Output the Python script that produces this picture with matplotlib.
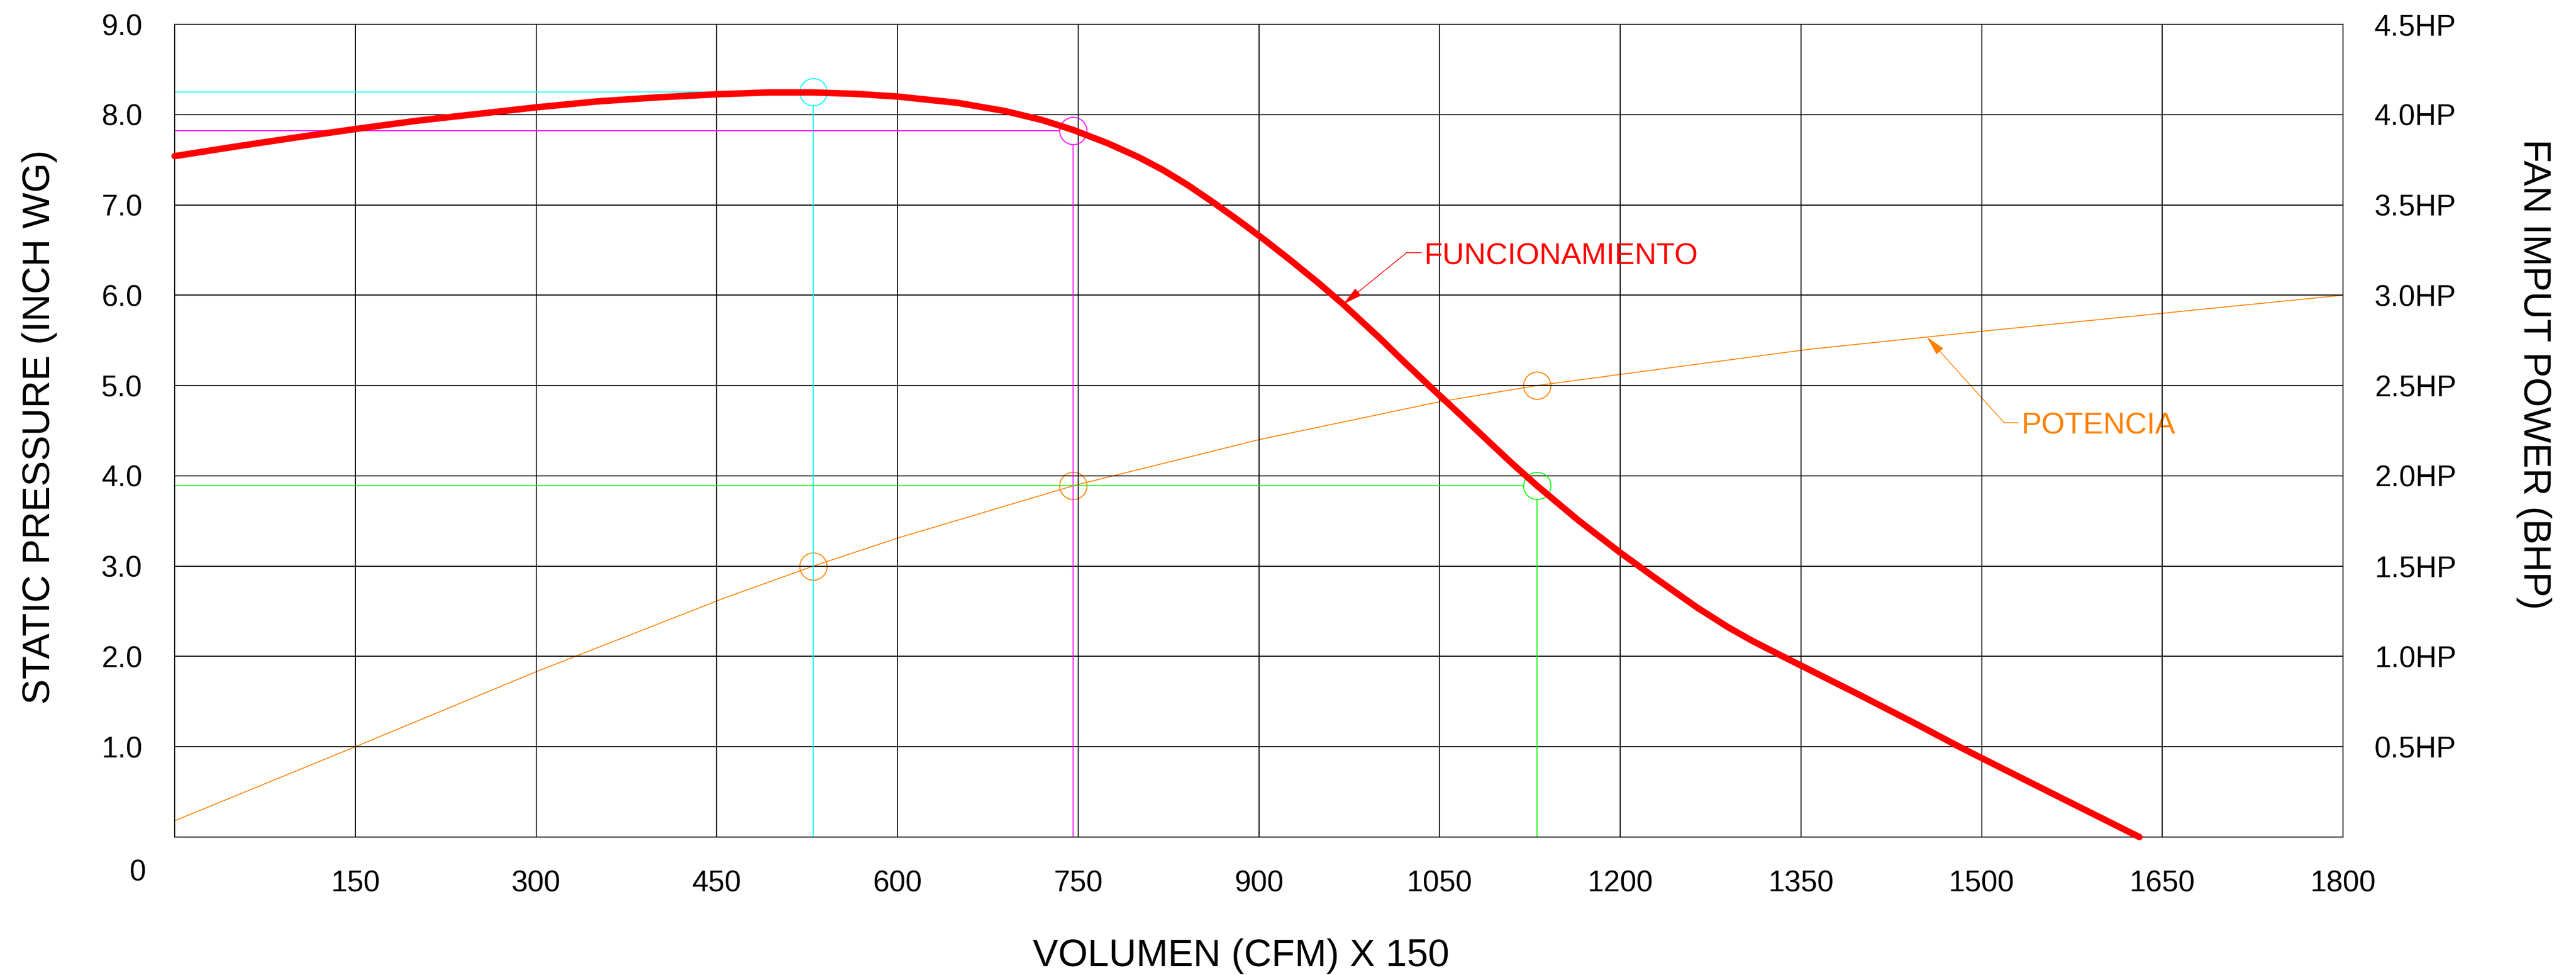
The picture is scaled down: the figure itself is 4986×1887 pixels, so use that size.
import matplotlib.pyplot as plt
import numpy as np
from matplotlib.ticker import FixedLocator, FuncFormatter

plt.rcParams["font.family"] = ["Liberation Sans", "DejaVu Sans"]

# Fan curve: volume (CFM x 150) against static pressure (inch WG)
VOLUME = [0, 50, 100, 150, 200, 250, 300, 350, 400, 450, 493, 530, 565, 600,
          650, 689, 720, 746, 775, 800, 820, 841, 863, 885, 906, 927, 950, 970,
          1000, 1020, 1042, 1065, 1090, 1110, 1131, 1165, 1200, 1230, 1264,
          1290, 1310, 1335, 1350, 1400, 1446, 1480, 1500, 1565, 1631]
PRESSURE = [7.54, 7.645, 7.745, 7.84, 7.93, 8.005, 8.08, 8.145, 8.19, 8.225,
            8.245, 8.245, 8.23, 8.20, 8.13, 8.04, 7.94, 7.83, 7.68, 7.53, 7.39,
            7.22, 7.02, 6.81, 6.60, 6.38, 6.13, 5.90, 5.53, 5.27, 4.99, 4.705,
            4.39, 4.14, 3.89, 3.51, 3.15, 2.86, 2.54, 2.32, 2.17, 2.0, 1.90,
            1.565, 1.25, 1.01, 0.875, 0.44, 0.0]

# Fan input power curve (BHP)
POWER_VOLUME = [0, 150, 300, 455, 530, 600, 746, 900, 1050, 1131, 1356, 1500, 1650, 1800]
POWER_HP = [0.09, 0.50, 0.915, 1.32, 1.50, 1.655, 1.945, 2.20, 2.41, 2.50, 2.70,
            2.80, 2.90, 3.00]

# Marked operating points on the pressure curve and their guide colours
POINT_VOLUME = [530, 746, 1131]
POINT_PRESSURE = [8.25, 7.82, 3.89]
POINT_COLORS = ["#00FFFF", "#FF00FF", "#00FF00"]

# Marked points on the power curve
POWER_POINT_VOLUME = [530, 746, 1131]
POWER_POINT_HP = [1.50, 1.945, 2.50]

X_TICKS = [150, 300, 450, 600, 750, 900, 1050, 1200, 1350, 1500, 1650, 1800]
Y_TICKS = [1.0, 2.0, 3.0, 4.0, 5.0, 6.0, 7.0, 8.0, 9.0]
HP_TICKS = [0.5, 1.0, 1.5, 2.0, 2.5, 3.0, 3.5, 4.0, 4.5]

RED = "#FF0000"
ORANGE = "#FF8000"
MARKER_SIZE = 38
TICK_SIZE = 41
LABEL_SIZE = 53
NOTE_SIZE = 42


def main():
    fig = plt.figure(figsize=(49.86, 18.87), dpi=100)
    fig.patch.set_facecolor("white")
    ax = fig.add_axes([0.06779, 0.14149, 0.84176, 0.83360])
    ax2 = ax.twinx()
    ax.set_zorder(ax2.get_zorder() + 1)
    ax.patch.set_visible(False)

    ax.set_xlim(0, 1800)
    ax.set_ylim(0, 9)
    ax2.set_ylim(0, 4.5)

    ax.xaxis.set_major_locator(FixedLocator(X_TICKS))
    ax.xaxis.set_major_formatter(FuncFormatter(lambda v, _: f"{v:.0f}"))
    ax.yaxis.set_major_locator(FixedLocator(Y_TICKS))
    ax.yaxis.set_major_formatter(FuncFormatter(lambda v, _: f"{v:.1f}"))
    ax2.yaxis.set_major_locator(FixedLocator(HP_TICKS))
    ax2.yaxis.set_major_formatter(FuncFormatter(lambda v, _: f"{v:.1f}HP"))

    ax.grid(True, color="black", linewidth=1.35)
    ax.tick_params(axis="x", length=0, labelsize=TICK_SIZE, pad=46)
    ax.tick_params(axis="y", length=0, labelsize=TICK_SIZE, pad=45)
    ax2.tick_params(axis="y", length=0, labelsize=TICK_SIZE, pad=44)
    for a in (ax, ax2):
        for spine in a.spines.values():
            spine.set_color("black")
            spine.set_linewidth(1.4)

    # origin label sits below-left of the corner
    ax.text(-0.0133, -0.0439, "0", transform=ax.transAxes, ha="right",
            va="center", fontsize=TICK_SIZE)

    # power curve on the HP scale (underneath)
    ax2.plot(POWER_VOLUME, POWER_HP, color=ORANGE, linewidth=1.3, zorder=2)
    ax2.plot(POWER_POINT_VOLUME, POWER_POINT_HP, "o", ms=MARKER_SIZE,
             mfc="none", mec=ORANGE, mew=1.4, zorder=3)

    # guide lines end at the edge of each circle
    r_px = MARKER_SIZE / 2 * fig.dpi / 72
    inv = ax.transData.inverted()
    for x, y, c in zip(POINT_VOLUME, POINT_PRESSURE, POINT_COLORS):
        px, py = ax.transData.transform((x, y))
        x_left = inv.transform((px - r_px, py))[0]
        y_low = inv.transform((px, py - r_px))[1]
        ax.plot([0, x_left], [y, y], color=c, linewidth=1.3, zorder=2)
        ax.plot([x, x], [y_low, 0], color=c, linewidth=1.3, zorder=2)
        ax.plot(x, y, "o", ms=MARKER_SIZE, mfc="none", mec=c, mew=1.4, zorder=3)

    ax.plot(VOLUME, PRESSURE, color=RED, linewidth=9, solid_capstyle="round",
            solid_joinstyle="round", clip_on=False, zorder=4)

    # FUNCIONAMIENTO leader
    tip_x = 970
    tip_y = np.interp(tip_x, VOLUME, PRESSURE)
    elbow = (1022.6, 6.47)
    ax.plot([elbow[0], 1034.7], [elbow[1], elbow[1]], color=RED, linewidth=1.1, zorder=5)
    ax.annotate("", xy=(tip_x, tip_y), xytext=elbow,
                arrowprops=dict(arrowstyle="-|>,head_length=1.2,head_width=0.28",
                                color=RED, lw=1.1, shrinkA=0, shrinkB=0,
                                mutation_scale=20), zorder=5)
    ax.text(1037.3, 6.34, "FUNCIONAMIENTO", color=RED, fontsize=NOTE_SIZE,
            ha="left", va="baseline", zorder=5)

    # POTENCIA leader
    ptip_x = 1454.6
    ptip_y = np.interp(ptip_x, POWER_VOLUME, POWER_HP)
    pelbow = (1518.6, 2.295)
    ax2.plot([pelbow[0], 1530.4], [pelbow[1], pelbow[1]], color=ORANGE, linewidth=1.1)
    ax2.annotate("", xy=(ptip_x, ptip_y), xytext=pelbow,
                 arrowprops=dict(arrowstyle="-|>,head_length=1.2,head_width=0.28",
                                 color=ORANGE, lw=1.1, shrinkA=0, shrinkB=0,
                                 mutation_scale=20))
    ax2.text(1532.8, 2.233, "POTENCIA", color=ORANGE, fontsize=NOTE_SIZE,
             ha="left", va="baseline")

    fig.text(0.4817, 1 - 1870 / 1887, "VOLUMEN (CFM) X 150", ha="center",
             va="baseline", fontsize=LABEL_SIZE)
    fig.text(77 / 4986, 1 - 827 / 1887, "STATIC PRESSURE (INCH WG)", rotation=90,
             ha="center", va="center", fontsize=LABEL_SIZE)
    fig.text(4905 / 4986, 1 - 724 / 1887, "FAN IMPUT POWER (BHP)", rotation=-90,
             ha="center", va="center", fontsize=LABEL_SIZE)

    fig.savefig("out.png", dpi=100, facecolor="white")


if __name__ == "__main__":
    main()
